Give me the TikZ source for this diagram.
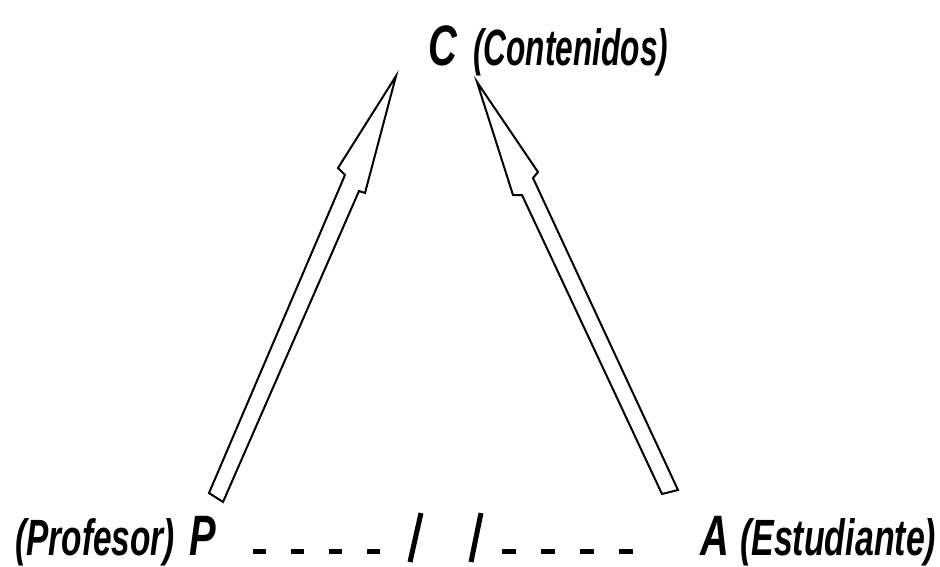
\documentclass[tikz,border=0pt]{standalone}
\usepackage{fontspec}
\newfontfamily\lab{Liberation Sans}[FakeStretch=0.62]
\newfontfamily\labw{Liberation Sans}[FakeStretch=0.655]
\newfontfamily\labm{Liberation Sans}[FakeStretch=0.665]
\newfontfamily\labb{Liberation Sans}[FakeStretch=0.7]
\tikzset{
  lbl/.style={inner sep=0pt, anchor=base west, text=black},
  big/.style={lbl, font=\labb\bfseries\itshape\fontsize{57}{60}\selectfont},
  word/.style={lbl, font=\lab\bfseries\itshape\fontsize{51}{54}\selectfont},
  wordw/.style={lbl, font=\labw\bfseries\itshape\fontsize{51}{54}\selectfont},
  wordm/.style={lbl, font=\labm\bfseries\itshape\fontsize{51}{54}\selectfont},
  blockarrow/.style={draw=black, fill=white, line width=2pt, line join=miter},
  dashline/.style={draw=black, line width=5pt},
  slash/.style={draw=black, line width=5pt}
}
\begin{document}
\begin{tikzpicture}[x=1pt,y=-1pt]
\useasboundingbox[fill=white] (0,0) rectangle (940,566);
% labels
\node[big]   (C)  at (428,65) {C};
\node[word]  (Cw) at (473,65) {(Contenidos)};
\node[wordw] (Pw) at (15,555) {(Profesor)};
\node[big]   (P)  at (189,555) {P};
\node[big]   (A)  at (700,555) {A};
\node[wordm] (Aw) at (740,555) {(Estudiante)};
% block arrows
\draw[blockarrow] (396,76) -- (338,168) -- (345,175) -- (209,493) -- (223,502)
  -- (359,191) -- (365,193) -- cycle;
\draw[blockarrow] (477,82) -- (538,172) -- (533,178) -- (678,490) -- (662,494)
  -- (522,195) -- (513,195) -- cycle;
% dashed link with break marks
\coordinate (d1s) at (253,551);
\coordinate (d1e) at (380,551);
\coordinate (d2s) at (502,551);
\coordinate (d2e) at (634,551);
\draw[dashline, dash pattern=on 13pt off 25pt] (d1s) -- (d1e);
\draw[dashline, dash pattern=on 14pt off 25pt] (d2s) -- (d2e);
\coordinate (s1b) at (410,562);
\coordinate (s1t) at (421,513);
\coordinate (s2b) at (471,562);
\coordinate (s2t) at (481,513);
\draw[slash] (s1b) -- (s1t);
\draw[slash] (s2b) -- (s2t);
\end{tikzpicture}
\end{document}
